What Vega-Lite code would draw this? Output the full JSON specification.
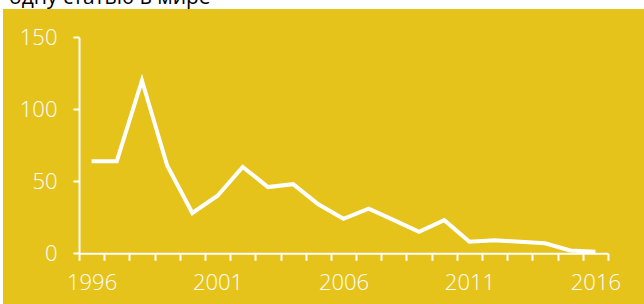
{
  "$schema": "https://vega.github.io/schema/vega-lite/v6.json",
  "width": 641,
  "height": 295,
  "autosize": {"type": "none"},
  "padding": {"left": 3, "top": 9, "right": 0, "bottom": 0},
  "background": "white",
  "title": {
    "text": "одну статью в мире",
    "anchor": "start",
    "frame": "group",
    "font": "Open Sans",
    "fontSize": 21,
    "fontWeight": "normal",
    "color": "#000000",
    "baseline": "bottom",
    "offset": -20,
    "dx": 6
  },
  "config": {
    "view": {"fill": "#E6C31B", "stroke": null},
    "axis": {
      "grid": false,
      "domainColor": "#FFFFFF",
      "domainWidth": 2,
      "tickColor": "#FFFFFF",
      "tickWidth": 2,
      "labelColor": "#FFFFFF",
      "labelFont": "Open Sans",
      "labelFontWeight": 300,
      "labelFontSize": 22,
      "title": null
    }
  },
  "data": {
    "values": [
      {"year": 1996, "count": 64},
      {"year": 1997, "count": 64},
      {"year": 1998, "count": 120},
      {"year": 1999, "count": 61},
      {"year": 2000, "count": 28},
      {"year": 2001, "count": 40},
      {"year": 2002, "count": 60},
      {"year": 2003, "count": 46},
      {"year": 2004, "count": 48},
      {"year": 2005, "count": 34},
      {"year": 2006, "count": 24},
      {"year": 2007, "count": 31},
      {"year": 2008, "count": 23},
      {"year": 2009, "count": 15},
      {"year": 2010, "count": 23},
      {"year": 2011, "count": 8},
      {"year": 2012, "count": 9},
      {"year": 2013, "count": 8},
      {"year": 2014, "count": 7},
      {"year": 2015, "count": 2},
      {"year": 2016, "count": 1}
    ]
  },
  "mark": {"type": "line", "color": "#FFFFFF", "strokeWidth": 4, "strokeCap": "butt"},
  "encoding": {
    "x": {
      "field": "year",
      "type": "ordinal",
      "scale": {"type": "band", "paddingInner": 0, "paddingOuter": 0, "range": [76, 605]},
      "axis": {
        "orient": "bottom",
        "offset": -50.7,
        "tickBand": "extent",
        "tickSize": 7,
        "labelAngle": 0,
        "labelPadding": 12,
        "labelExpr": "(toNumber(datum.value) - 1996) % 5 === 0 ? datum.label : ''"
      }
    },
    "y": {
      "field": "count",
      "type": "quantitative",
      "scale": {"domain": [0, 150], "range": [244.3, 28.3], "nice": false, "zero": true},
      "axis": {
        "orient": "left",
        "offset": -76,
        "values": [0, 50, 100, 150],
        "tickSize": 6,
        "labelPadding": 16
      }
    }
  }
}
